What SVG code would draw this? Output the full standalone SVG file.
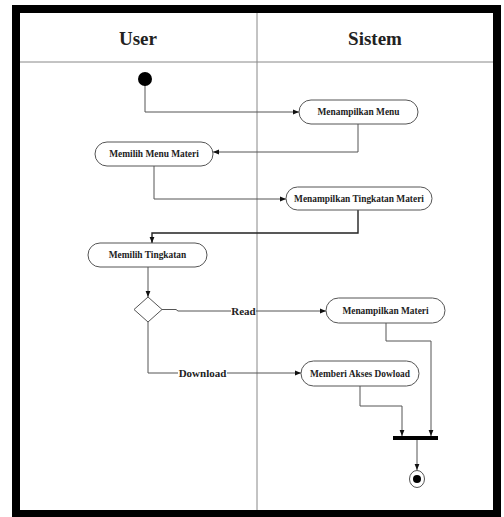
<svg xmlns="http://www.w3.org/2000/svg" width="504" height="517" viewBox="0 0 504 517">
<defs>
<marker id="arr" viewBox="0 0 10 10" refX="10" refY="5" markerWidth="6" markerHeight="6" markerUnits="userSpaceOnUse" orient="auto">
<path d="M0,1 L10,5 L0,9 z" fill="#111"/>
</marker>
<style>
.node rect{fill:#fff;stroke:#555;stroke-width:1}
.node text{font-family:"Liberation Serif",serif;font-weight:bold;font-size:9.4px;fill:#222;text-anchor:middle}
.hdr{font-family:"Liberation Serif",serif;font-weight:bold;font-size:19px;fill:#222;text-anchor:middle}
.lbl{font-family:"Liberation Serif",serif;font-weight:bold;font-size:11px;fill:#222;text-anchor:middle}
.conn path{fill:none;stroke:#555;stroke-width:1}
.lane{stroke:#888;stroke-width:1;fill:none}
</style>
</defs>
<rect x="0" y="0" width="504" height="517" fill="#fff"/>
<rect x="16" y="9" width="481" height="505" fill="#fff" stroke="#000" stroke-width="8"/>
<g id="lanes">
<line class="lane" x1="20" y1="62" x2="493" y2="62"/>
<line class="lane" x1="257" y1="13" x2="257" y2="510"/>
<text class="hdr" x="138" y="45">User</text>
<text class="hdr" x="375" y="45">Sistem</text>
</g>
<g class="conn" id="connectors">
<path d="M145,84 V112 H299" marker-end="url(#arr)"/>
<path d="M358,124 V152 H213" marker-end="url(#arr)"/>
<path d="M154,166 V199 H286" marker-end="url(#arr)"/>
<path d="M358,210 V233 H152 V243" marker-end="url(#arr)" style="stroke:#222;stroke-width:1.4"/>
<path d="M148,267 V297" marker-end="url(#arr)"/>
<path d="M162,309.5 H176 L178,311 H326" marker-end="url(#arr)"/>
<path d="M148,322 V373 H301" marker-end="url(#arr)"/>
<path d="M386,323 V341 H431 V436" marker-end="url(#arr)"/>
<path d="M360,386 V406 H402 V436" marker-end="url(#arr)"/>
<path d="M417,440 V470" marker-end="url(#arr)"/>
<rect x="231" y="304" width="25" height="13" fill="#fff"/>
<text class="lbl" x="243.5" y="315">Read</text>
<rect x="178" y="366" width="49" height="13" fill="#fff"/>
<text class="lbl" x="202.5" y="377">Download</text>
</g>
<g id="start"><circle cx="145" cy="79" r="7" fill="#000"/></g>
<g id="n1" class="node"><rect x="299" y="100" width="119" height="24" rx="12"/><text x="358.5" y="115.2">Menampilkan Menu</text></g>
<g id="n2" class="node"><rect x="95" y="142" width="118" height="24" rx="12"/><text x="154" y="157.2">Memilih Menu Materi</text></g>
<g id="n3" class="node"><rect x="286" y="187" width="146" height="23" rx="11.5"/><text x="359" y="201.7">Menampilkan Tingkatan Materi</text></g>
<g id="n4" class="node"><rect x="88" y="243" width="119" height="24" rx="12"/><text x="147.5" y="258.2">Memilih Tingkatan</text></g>
<g id="decision"><path d="M148,297 L162,309.5 L148,322 L134,309.5 z" fill="#fff" stroke="#555" stroke-width="1"/></g>
<g id="n5" class="node"><rect x="326" y="298" width="119" height="25" rx="12.5"/><text x="385.5" y="313.7">Menampilkan Materi</text></g>
<g id="n6" class="node"><rect x="301" y="361" width="118" height="25" rx="12.5"/><text x="360" y="376.7">Memberi Akses Dowload</text></g>
<g id="join"><rect x="393" y="436" width="45" height="4" fill="#000"/></g>
<g id="end"><ellipse cx="417" cy="479" rx="7.5" ry="8.5" fill="#fff" stroke="#555" stroke-width="1"/><circle cx="417" cy="479" r="4" fill="#000"/></g>
</svg>
